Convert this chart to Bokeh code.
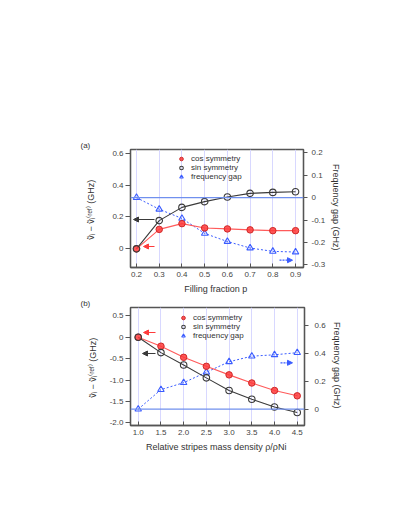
from bokeh.plotting import figure
from bokeh.models import (Range1d, LinearAxis, Span, Arrow, NormalHead, Title,
                          Legend, LegendItem, FixedTicker, CustomJSTickFormatter)
from bokeh.layouts import column
from bokeh.embed import file_html
from bokeh.resources import INLINE

FONT = "Liberation Sans"

# ---------------- data: panel (a) ----------------
fill_fraction = [0.2, 0.3, 0.4, 0.5, 0.6, 0.7, 0.8, 0.9]
a_cos = [0.0, 0.122, 0.158, 0.131, 0.125, 0.119, 0.114, 0.114]
a_sin = [0.0, 0.177, 0.260, 0.296, 0.325, 0.348, 0.354, 0.358]
a_gap = [0.0, -0.052, -0.093, -0.160, -0.196, -0.225, -0.240, -0.243]

a_xticks = [0.2, 0.3, 0.4, 0.5, 0.6, 0.7, 0.8, 0.9]
a_xlabels = ["0.2", "0.3", "0.4", "0.5", "0.6", "0.7", "0.8", "0.9"]
a_lticks = [0.0, 0.2, 0.4, 0.6]
a_llabels = ["0", "0.2", "0.4", "0.6"]
a_rticks = [-0.3, -0.2, -0.1, 0.0, 0.1, 0.2]
a_rlabels = ["-0.3", "-0.2", "-0.1", "0", "0.1", "0.2"]

# ---------------- data: panel (b) ----------------
rel_density = [1.0, 1.5, 2.0, 2.5, 3.0, 3.5, 4.0, 4.5]
b_cos = [0.0, -0.21, -0.47, -0.68, -0.88, -1.07, -1.245, -1.37]
b_sin = [0.0, -0.36, -0.65, -0.95, -1.245, -1.45, -1.63, -1.76]
b_gap = [0.0, 0.14, 0.19, 0.265, 0.34, 0.38, 0.39, 0.405]

b_xticks = [1.0, 1.5, 2.0, 2.5, 3.0, 3.5, 4.0, 4.5]
b_xlabels = ["1.0", "1.5", "2.0", "2.5", "3.0", "3.5", "4.0", "4.5"]
b_lticks = [-2.0, -1.5, -1.0, -0.5, 0.0, 0.5]
b_llabels = ["-2.0", "-1.5", "-1.0", "-0.5", "0", "0.5"]
b_rticks = [0.0, 0.2, 0.4, 0.6]
b_rlabels = ["0", "0.2", "0.4", "0.6"]

legend_labels = ["cos symmetry", "sin symmetry", "frequency gap"]
y_label = "ṽᵢ − ṽᵢ⁽ʳᵉᶠ⁾  (GHz)"
r_label = "Frequency gap  (GHz)"
a_xtitle = "Filling fraction  p"
b_xtitle = "Relative stripes mass density  ρ/ρNi"

RED = "#ff3b3b"
REDL = "#ff5a5a"
BLK = "#3a3a3a"
BLUE = "#3a5cff"
AXC = "#555555"
TXT = "#333333"


def fmt(ticks, labels):
    return CustomJSTickFormatter(args=dict(tvals=ticks, tlabs=labels), code="""
        for (let i = 0; i < tvals.length; i++) {
            if (Math.abs(tvals[i] - tick) < 1e-6) return tlabs[i];
        }
        return '';
    """)


def style_axis(ax, ticks, labels, tick_in=0, tick_out=5, standoff=3):
    ax.ticker = FixedTicker(ticks=ticks)
    ax.formatter = fmt(ticks, labels)
    ax.major_tick_in = tick_in
    ax.major_tick_out = tick_out
    ax.minor_tick_in = 0
    ax.minor_tick_out = 0
    ax.axis_line_color = AXC
    ax.axis_line_width = 1.3
    ax.major_tick_line_color = AXC
    ax.major_label_text_font = FONT
    ax.major_label_text_font_size = "8px"
    ax.major_label_text_color = "#444444"
    ax.major_label_standoff = standoff
    ax.axis_label_text_font = FONT
    ax.axis_label_text_font_size = "9px"
    ax.axis_label_text_font_style = "normal"
    ax.axis_label_text_color = TXT


def build(L, R, T, B, xr, lr, rr, border, x, cos, sin, gap,
          xt, xl, lt, ll, rt, rl, lstand, rstand, rlabstand, xstand,
          legend_loc, xtitle, tag):
    p = figure(frame_width=R - L, frame_height=B - T,
               min_border_left=border[0], min_border_right=border[1],
               min_border_top=border[2], min_border_bottom=border[3],
               x_range=Range1d(*xr), y_range=Range1d(*lr),
               output_backend="svg", toolbar_location=None)
    p.extra_y_ranges = {"gap": Range1d(*rr)}
    p.outline_line_color = AXC
    p.outline_line_width = 1.3
    p.background_fill_color = "white"
    p.border_fill_color = "white"
    p.ygrid.visible = False
    p.xgrid.ticker = FixedTicker(ticks=xt)
    p.xgrid.grid_line_color = "#d8d8ff"
    p.xgrid.grid_line_width = 1

    style_axis(p.xaxis[0], xt, xl, tick_in=4, tick_out=0, standoff=4)
    p.xaxis[0].axis_label = xtitle
    p.xaxis[0].axis_label_standoff = xstand
    style_axis(p.yaxis[0], lt, ll, tick_in=0, tick_out=5, standoff=2)
    p.yaxis[0].axis_label = y_label
    p.yaxis[0].axis_label_standoff = lstand

    rax = LinearAxis(y_range_name="gap", axis_label=r_label)
    style_axis(rax, rt, rl, tick_in=0, tick_out=4, standoff=rlabstand)
    rax.axis_label_standoff = rstand
    p.add_layout(rax, "right")

    p.add_layout(Title(text=tag, align="left", offset=-50, standoff=0,
                       text_font=FONT, text_font_size="8px",
                       text_font_style="normal", text_color=TXT), "above")

    p.add_layout(Span(location=0, dimension="width", y_range_name="gap",
                      line_color="#7090ee", line_width=1.2))

    p.line(x, gap, y_range_name="gap", line_color=BLUE, line_width=1,
           line_dash="2 2")
    p.line(x, cos, line_color=REDL, line_width=1.1)
    p.line(x, sin, line_color=BLK, line_width=1.1)
    r_gap = p.scatter(x, gap, y_range_name="gap", marker="triangle", size=6.5,
                      fill_color=None, line_color=BLUE, line_width=1.1)
    r_cos = p.scatter(x, cos, marker="circle", size=6.5, fill_color=RED,
                      fill_alpha=0.85, line_color="#d02828", line_width=1)
    r_sin = p.scatter(x, sin, marker="circle", size=6.5, fill_color=None,
                      line_color=BLK, line_width=1.1)

    leg = Legend(items=[LegendItem(label=legend_labels[0], renderers=[r_cos]),
                        LegendItem(label=legend_labels[1], renderers=[r_sin]),
                        LegendItem(label=legend_labels[2], renderers=[r_gap])],
                 location=legend_loc, glyph_width=10, glyph_height=9,
                 label_height=9, label_standoff=5, spacing=0, padding=0,
                 margin=0, background_fill_alpha=0, border_line_alpha=0,
                 label_text_font=FONT, label_text_font_size="8px",
                 label_text_color=TXT)
    p.add_layout(leg)
    return p


def conv(L, R, T, B, xr, yr):
    fx = lambda px: xr[0] + (px - L) / (R - L) * (xr[1] - xr[0])
    fy = lambda py: yr[1] - (py - T) / (B - T) * (yr[1] - yr[0])
    return fx, fy


def arrow(p, x0, x1, y, color, dash="solid", rng="default"):
    p.add_layout(Arrow(end=NormalHead(size=5, fill_color=color, line_color=color),
                       x_start=x0, y_start=y, x_end=x1, y_end=y,
                       line_color=color, line_width=1.2, line_dash=dash,
                       y_range_name=rng))


# ---------------- panel (a) ----------------
La, Ra, Ta, Ba = 130, 303, 149, 267
axr = (0.1736, 0.935)
alr = (-0.117, 0.623)
arr = (-0.312, 0.2147)
pa = build(La, Ra, Ta, Ba, axr, alr, arr, (130, 84, 149, 27),
           fill_fraction, a_cos, a_sin, a_gap,
           a_xticks, a_xlabels, a_lticks, a_llabels, a_rticks, a_rlabels,
           13, 3, 4, 4, (46, 86), a_xtitle, "(a)")
fxa, fya = conv(La, Ra, Ta, Ba, axr, alr)
_, fyar = conv(La, Ra, Ta, Ba, axr, arr)
arrow(pa, fxa(154), fxa(133), fya(219), BLK)
arrow(pa, fxa(154), fxa(143), fya(246), RED)
arrow(pa, fxa(279), fxa(292), fyar(259.7), BLUE, dash="2 1", rng="gap")

# ---------------- panel (b) ----------------
Lb, Rb, Tb, Bb = 129, 303, 305, 423
bxr = (0.83, 4.66)
blr = (-2.063, 0.694)
brr = (-0.117, 0.729)
pb = build(Lb, Rb, Tb, Bb, bxr, blr, brr, (129, 85, 9, 78),
           rel_density, b_cos, b_sin, b_gap,
           b_xticks, b_xlabels, b_lticks, b_llabels, b_rticks, b_rlabels,
           9, 3, 6, 4, (48, 85), b_xtitle, "(b)")
fxb, fyb = conv(Lb, Rb, Tb, Bb, bxr, blr)
_, fybr = conv(Lb, Rb, Tb, Bb, bxr, brr)
arrow(pb, fxb(154), fxb(142), fyb(330), RED)
arrow(pb, fxb(154), fxb(141), fyb(351), BLK)
arrow(pb, fxb(279), fxb(291), fybr(360.3), BLUE, dash="2 1", rng="gap")

layout = column(pa, pb, spacing=0)
open("out.html", "w").write(file_html(layout, INLINE))
